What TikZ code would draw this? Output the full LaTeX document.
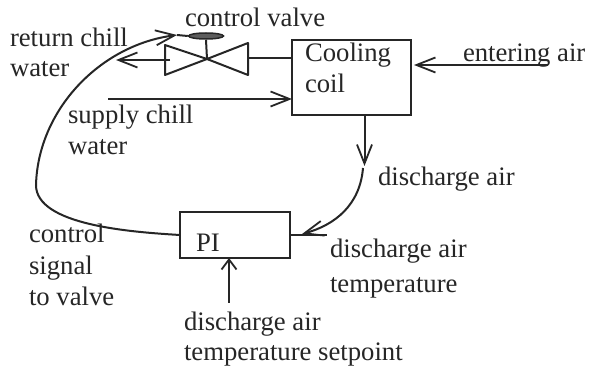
\documentclass[tikz,border=0pt]{standalone}
\usepackage{fontspec}
\setmainfont{Liberation Serif}
\usetikzlibrary{arrows.meta,shapes.geometric}
\definecolor{ink}{HTML}{262626}
\tikzset{
  lbl/.style={anchor=base west,inner sep=0pt,outer sep=0pt,text=ink,font=\fontsize{26.7}{26.7}\selectfont},
  boxn/.style={draw=ink,line width=2.2pt,inner sep=0pt,outer sep=0pt},
  ln/.style={draw=ink,line width=2pt},
  arr/.style={ln,-{Straight Barb[length=19pt,width=15pt,line width=1.8pt]}},
}
\begin{document}
\begin{tikzpicture}[x=1pt,y=-1pt]
\useasboundingbox (0,0) rectangle (590,366);
\fill[white] (0,0) rectangle (590,366);
% boxes
\node[boxn,minimum width=119pt,minimum height=75pt] (cool) at (351.5,77.5) {};
\node[boxn,minimum width=110pt,minimum height=46pt] (pi) at (235,235) {};
% valve
\coordinate (vc) at (207,59);
\draw[ln,line join=round] (vc) -- (165,45) -- (165,75) -- cycle;
\draw[ln,line join=round] (vc) -- (248,43) -- (248,75) -- cycle;
\node[ellipse,draw=ink,fill=ink!75,line width=1.5pt,inner sep=0pt,minimum width=35pt,minimum height=6pt] (act) at (206,36) {};
\draw[ln] (vc) -- (act.south);
% connectors
\coordinate (retS) at (170,60);
\coordinate (retE) at (116,60);
\draw[arr] (retS) -- (retE);
\draw[ln] (248,58) -- (cool.west |- 0,58);
\coordinate (supS) at (108,99);
\draw[arr] (supS) -- (cool.west |- 0,99);
\coordinate (entS) at (548,65);
\coordinate (entE) at (414,65);
\draw[arr] (entS) -- (entE);
\coordinate (disE) at (364.5,166);
\draw[arr] (cool.south -| 364.5,0) -- (disE);
% discharge curve to PI
\coordinate (curS) at (363,168);
\coordinate (curE) at (302,234);
\draw[arr] (curS) .. controls (360,205) and (335,225) .. (curE);
\coordinate (piIn) at (327,235);
\draw[ln] (pi.east) -- (piIn);
% setpoint
\coordinate (setS) at (229,303);
\draw[ln,-{Straight Barb[length=10pt,width=15pt,line width=1.8pt]}] (setS) -- (pi.south -| 229,0);
% control signal
\coordinate (c1) at (36,185);
\coordinate (c2) at (177,35);
\draw[arr] (pi.west) .. controls (130,232) and (36,225) .. (c1)
  .. controls (38,110) and (100,45) .. (c2);
\draw[ln] (c2) -- (act.west);
% labels
\node[lbl] (t1) at (185,27) {control valve};
\node[lbl] (t2) at (10,47) {return chill};
\node[lbl] (t3) at (10,77) {water};
\node[lbl] (t4) at (68,124) {supply chill};
\node[lbl] (t5) at (68,155) {water};
\node[lbl] (t6) at (305,62) {Cooling};
\node[lbl] (t7) at (305,93) {coil};
\node[lbl] (t8) at (463,62) {entering air};
\node[lbl] (t9) at (378,186) {discharge air};
\node[lbl] (t10) at (330,258) {discharge air};
\node[lbl] (t11) at (330,293) {temperature};
\node[lbl] (t12) at (196,252) {PI};
\node[lbl] (t13) at (29,243) {control};
\node[lbl] (t14) at (29,275) {signal};
\node[lbl] (t15) at (29,306) {to valve};
\node[lbl] (t16) at (184,331) {discharge air};
\node[lbl] (t17) at (184,361) {temperature setpoint};
\end{tikzpicture}
\end{document}
